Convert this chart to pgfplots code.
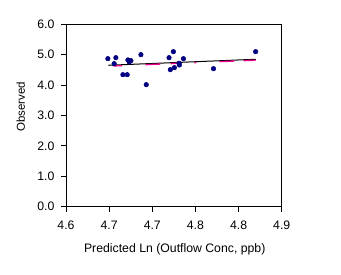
\documentclass[border=0pt]{standalone}
\usepackage{pgfplots}
\pgfplotsset{compat=1.18}
\usepackage{fontspec}
\setmainfont{Liberation Sans}
\definecolor{navyblue}{RGB}{0,0,128}
\begin{document}
\begin{tikzpicture}
\path[use as bounding box] (0,0) rectangle (255.75pt,205.5pt);
\begin{axis}[
  at={(49.5pt,50.5pt)}, anchor=south west,
  scale only axis, width=161.8pt, height=136.8pt,
  xmin=4.6, xmax=4.9, ymin=0, ymax=6,
  xtick={4.6,4.66,4.72,4.78,4.84,4.9},
  xticklabels={4.6,4.7,4.7,4.8,4.8,4.9},
  ytick={0,1,2,3,4,5,6},
  yticklabels={0.0,1.0,2.0,3.0,4.0,5.0,6.0},
  xtick pos=bottom, ytick pos=left,
  tick align=outside, major tick length=3.75pt,
  axis line style={line width=0.75pt},
  every tick/.style={black, line width=0.75pt},
  tick label style={font=\fontsize{9.2}{11}\selectfont},
  yticklabel style={xshift=-1.4pt},
  xticklabel style={yshift=-3.4pt},
  label style={font=\fontsize{9.2}{11}\selectfont},
  xlabel={Predicted Ln (Outflow Conc, ppb)},
  ylabel={Observed},
  xlabel style={at={(axis description cs:0.504,-0.235)}, anchor=center},
  ylabel style={at={(axis description cs:-0.21,0.548)}, anchor=center, rotate=0, font=\fontsize{8.6}{10}\selectfont},
  clip=false,
]
\addplot[black, line width=0.75pt] coordinates {(4.659,4.651) (4.864,4.849)};
\addplot[magenta, line width=1pt] coordinates {(4.666,4.628) (4.678,4.640)};
\addplot[magenta, line width=1pt] coordinates {(4.7106,4.671) (4.7312,4.691)};
\addplot[magenta, line width=1pt] coordinates {(4.7455,4.705) (4.760,4.719)};
\addplot[magenta, line width=1pt] coordinates {(4.7786,4.737) (4.7814,4.740)};
\addplot[magenta, line width=1pt] coordinates {(4.8135,4.771) (4.834,4.790)};
\addplot[magenta, line width=1pt] coordinates {(4.847,4.803) (4.8637,4.819)};
\addplot[only marks, mark=*, mark size=1.7pt, color=navyblue] coordinates {
(4.6582,4.868) (4.6670,4.704) (4.6693,4.901) (4.6791,4.342) (4.6851,4.342)
(4.6861,4.826) (4.6879,4.760) (4.6903,4.803) (4.7042,5.000) (4.7116,4.013)
(4.7433,4.901) (4.7493,5.099) (4.7451,4.507) (4.7507,4.572) (4.7572,4.717)
(4.7577,4.661) (4.7633,4.868) (4.8051,4.539) (4.8637,5.099)
};
\end{axis}
\end{tikzpicture}
\end{document}
